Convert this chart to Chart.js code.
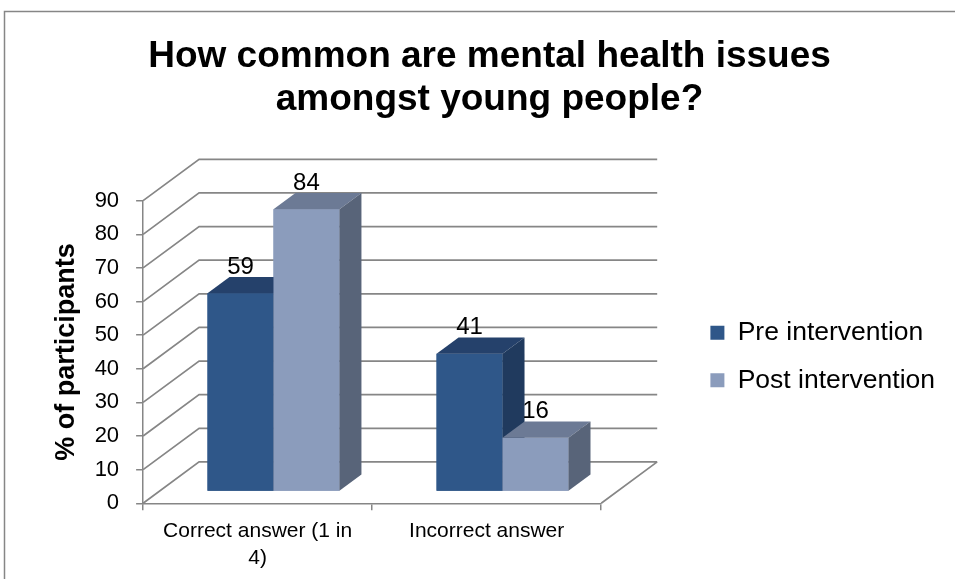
<!DOCTYPE html>
<html>
<head>
<meta charset="utf-8">
<script src="https://cdn.jsdelivr.net/npm/chart.js@4.4.1/dist/chart.umd.min.js"></script>
<style>
  html, body { margin: 0; background: #fff; }
  #wrap { position: relative; width: 955px; height: 579px; }
</style>
</head>
<body>
<div id="wrap"><canvas id="chart"></canvas></div>
<script>
const categories = [['Correct answer (1 in', '4)'], 'Incorrect answer'];
const seriesNames = ['Pre intervention', 'Post intervention'];
const preValues = [59, 41];
const postValues = [84, 16];
const yTicks = [0, 10, 20, 30, 40, 50, 60, 70, 80, 90];

const FONT = "'Liberation Sans', Arial, sans-serif";
const GRID = '#868686';
// front, top and side colour of each series
const faces = [
  ['#2F5789', '#25416B', '#203A5E'],
  ['#8B9CBC', '#6C7A95', '#586479']
];
// floor depth in px, where the bars start along it and how deep they are
const DEPTH = { x: 56, y: -41.4 };
const BAR_FRONT = 0.283;
const BAR_DEPTH = 0.393;

const box3d = {
  id: 'box3d',
  beforeDraw(chart) {
    const ctx = chart.ctx;
    ctx.save();
    ctx.strokeStyle = GRID;
    ctx.lineWidth = 1.5;
    ctx.strokeRect(4.5, 11.5, 1000, 600);
    ctx.restore();
  },
  beforeDatasetsDraw(chart) {
    const { ctx, chartArea, scales: { y } } = chart;
    const l = chartArea.left, r = chartArea.right;
    // side wall diagonals + back wall gridlines
    ctx.save();
    ctx.strokeStyle = GRID;
    ctx.lineWidth = 1.7;
    ctx.beginPath();
    yTicks.forEach(v => {
      const py = y.getPixelForValue(v);
      ctx.moveTo(l, py);
      ctx.lineTo(l + DEPTH.x, py + DEPTH.y);
      ctx.lineTo(r + DEPTH.x, py + DEPTH.y);
    });
    const p0 = y.getPixelForValue(0);
    ctx.moveTo(r, p0);
    ctx.lineTo(r + DEPTH.x, p0 + DEPTH.y);
    ctx.stroke();
    ctx.restore();
    // bars sit a bit back from the front edge of the floor
    ctx.save();
    ctx.translate(DEPTH.x * BAR_FRONT, DEPTH.y * BAR_FRONT);
  },
  afterDatasetsDraw(chart) {
    const ctx = chart.ctx;
    const bx = DEPTH.x * BAR_DEPTH, by = DEPTH.y * BAR_DEPTH;
    // left to right so nearer faces cover hidden ones
    categories.forEach((c, i) => {
      chart.data.datasets.forEach((ds, d) => {
        const el = chart.getDatasetMeta(d).data[i];
        const x0 = el.x - el.width / 2, x1 = el.x + el.width / 2;
        const top = el.y, bot = el.base;
        el.draw(ctx);
        ctx.fillStyle = faces[d][1];
        ctx.beginPath();
        ctx.moveTo(x0, top);
        ctx.lineTo(x1, top);
        ctx.lineTo(x1 + bx, top + by);
        ctx.lineTo(x0 + bx, top + by);
        ctx.closePath();
        ctx.fill();
        ctx.fillStyle = faces[d][2];
        ctx.beginPath();
        ctx.moveTo(x1, top);
        ctx.lineTo(x1 + bx, top + by);
        ctx.lineTo(x1 + bx, bot + by);
        ctx.lineTo(x1, bot);
        ctx.closePath();
        ctx.fill();
      });
    });
    ctx.restore();

    // value labels above the bars
    ctx.save();
    ctx.fillStyle = '#000';
    ctx.font = '24px ' + FONT;
    ctx.textAlign = 'center';
    ctx.textBaseline = 'middle';
    chart.data.datasets.forEach((ds, d) => {
      chart.getDatasetMeta(d).data.forEach((el, i) => {
        ctx.fillText(ds.data[i], el.x + DEPTH.x * BAR_FRONT, el.y + DEPTH.y * BAR_FRONT - 26);
      });
    });
    ctx.restore();
  }
};

new Chart(document.getElementById('chart'), {
  type: 'bar',
  data: {
    labels: categories,
    datasets: [
      { label: seriesNames[0], data: preValues, backgroundColor: faces[0][0] },
      { label: seriesNames[1], data: postValues, backgroundColor: faces[1][0] }
    ]
  },
  options: {
    responsive: true,
    maintainAspectRatio: false,
    animation: false,
    layout: { padding: { left: 41.6, right: 17.6, top: 0, bottom: 0 } },
    datasets: { bar: { categoryPercentage: 0.576, barPercentage: 1, borderWidth: 0, clip: false } },
    plugins: {
      title: {
        display: true,
        text: ['How common are mental health issues', 'amongst young people?'],
        color: '#000',
        font: { family: FONT, size: 37, weight: 'bold', lineHeight: 1.162 },
        padding: { top: 35.5, bottom: 79.2 }
      },
      legend: {
        position: 'right',
        fullSize: false,
        align: 'center',
        maxWidth: 248,
        // empty title only nudges the entries down a little
        title: { display: true, text: '', padding: 0, font: { size: 9, lineHeight: 1 } },
        labels: { boxWidth: 14, boxHeight: 14, padding: 21, color: '#000', font: { family: FONT, size: 26.5 } }
      },
      tooltip: { enabled: false }
    },
    scales: {
      x: {
        grid: { display: true, drawOnChartArea: false, offset: true, tickLength: 7, color: GRID, lineWidth: 1.5 },
        border: { color: GRID, width: 1.5 },
        ticks: { color: '#000', font: { family: FONT, size: 21, lineHeight: 1.27 }, padding: 7.5, maxRotation: 0, autoSkip: false },
        afterFit: s => { s.height = 75.7; }
      },
      y: {
        min: 0,
        max: 90,
        afterBuildTicks: s => { s.ticks = yTicks.map(v => ({ value: v })); },
        grid: { display: true, drawOnChartArea: false, tickLength: 7, color: GRID, lineWidth: 1.5 },
        border: { color: GRID, width: 1.5 },
        ticks: { color: '#000', font: { family: FONT, size: 22 }, padding: 17 },
        title: {
          display: true,
          text: '% of participants',
          color: '#000',
          font: { family: FONT, size: 27, weight: 'bold', lineHeight: 1.2 },
          padding: { top: 9.2, bottom: 0 }
        },
        afterFit: s => { s.width = 143.1 - 41.6; }
      },
      // keeps room between the plot and the legend
      y2: { position: 'right', display: false, afterFit: s => { s.width = 88.2; } }
    }
  },
  plugins: [box3d]
});
</script>
</body>
</html>
